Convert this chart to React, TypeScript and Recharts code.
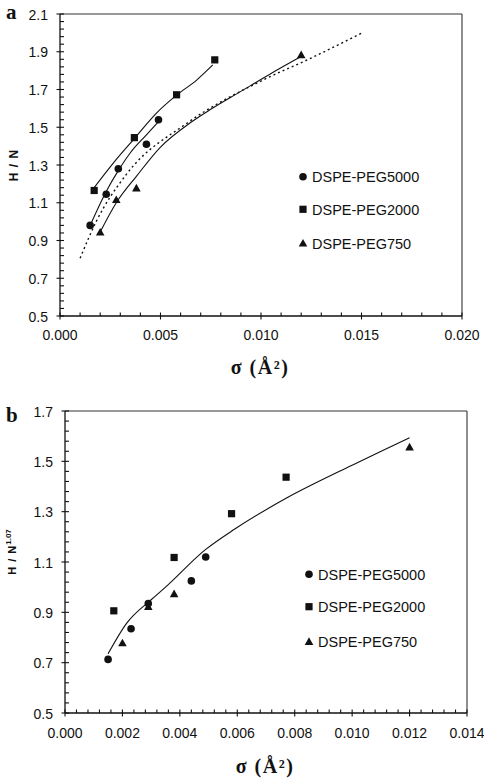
import React from 'react';
import { ComposedChart, Line, Scatter, XAxis, YAxis, ReferenceLine } from 'recharts';

// ---------- Data ----------
const seriesNames = ['DSPE-PEG5000', 'DSPE-PEG2000', 'DSPE-PEG750'];

// Panel a : H / N vs sigma
const peg5000A = [
  { x: 0.0015, y: 0.98 },
  { x: 0.0023, y: 1.145 },
  { x: 0.0029, y: 1.28 },
  { x: 0.0043, y: 1.41 },
  { x: 0.0049, y: 1.54 },
];
const peg2000A = [
  { x: 0.0017, y: 1.165 },
  { x: 0.0037, y: 1.445 },
  { x: 0.0058, y: 1.672 },
  { x: 0.0077, y: 1.857 },
];
const peg750A = [
  { x: 0.002, y: 0.943 },
  { x: 0.0028, y: 1.115 },
  { x: 0.0038, y: 1.177 },
  { x: 0.012, y: 1.883 },
];
const fit5000A = [
  { x: 0.0015, y: 0.98 },
  { x: 0.0023, y: 1.16 },
  { x: 0.0029, y: 1.27 },
  { x: 0.0035, y: 1.365 },
  { x: 0.0043, y: 1.46 },
  { x: 0.0049, y: 1.53 },
];
const fit2000A = [
  { x: 0.0017, y: 1.18 },
  { x: 0.00265, y: 1.31 },
  { x: 0.0037, y: 1.44 },
  { x: 0.0048, y: 1.575 },
  { x: 0.0058, y: 1.67 },
  { x: 0.0068, y: 1.75 },
  { x: 0.0076, y: 1.83 },
];
const fit750A = [
  { x: 0.002, y: 0.945 },
  { x: 0.0028, y: 1.1 },
  { x: 0.0038, y: 1.24 },
  { x: 0.005, y: 1.395 },
  { x: 0.0065, y: 1.525 },
  { x: 0.0075, y: 1.595 },
  { x: 0.009, y: 1.69 },
  { x: 0.0105, y: 1.785 },
  { x: 0.012, y: 1.875 },
];
const fitAllA = [
  { x: 0.001, y: 0.806 },
  { x: 0.0018, y: 1.0 },
  { x: 0.0033, y: 1.25 },
  { x: 0.0063, y: 1.52 },
  { x: 0.01, y: 1.745 },
  { x: 0.0123, y: 1.857 },
  { x: 0.015, y: 1.998 },
];

// Panel b : H / N^1.07 vs sigma
const peg5000B = [
  { x: 0.0015, y: 0.713 },
  { x: 0.0023, y: 0.835 },
  { x: 0.0029, y: 0.935 },
  { x: 0.0044, y: 1.025 },
  { x: 0.0049, y: 1.12 },
];
const peg2000B = [
  { x: 0.0017, y: 0.906 },
  { x: 0.0038, y: 1.118 },
  { x: 0.0058, y: 1.292 },
  { x: 0.0077, y: 1.437 },
];
const peg750B = [
  { x: 0.002, y: 0.778 },
  { x: 0.0029, y: 0.922 },
  { x: 0.0038, y: 0.973 },
  { x: 0.012, y: 1.556 },
];
const fitB = [
  { x: 0.0015, y: 0.735 },
  { x: 0.00215, y: 0.857 },
  { x: 0.003, y: 0.95 },
  { x: 0.0035, y: 1.0 },
  { x: 0.0049, y: 1.15 },
  { x: 0.0059, y: 1.23 },
  { x: 0.0077, y: 1.353 },
  { x: 0.0099, y: 1.479 },
  { x: 0.012, y: 1.594 },
];

// Tick labels
const xMajorA = [0, 0.005, 0.01, 0.015, 0.02];
const yMajorA = [0.5, 0.7, 0.9, 1.1, 1.3, 1.5, 1.7, 1.9, 2.1];
const xMajorB = [0, 0.002, 0.004, 0.006, 0.008, 0.01, 0.012, 0.014];
const yMajorB = [0.5, 0.7, 0.9, 1.1, 1.3, 1.5, 1.7];

// ---------- helpers ----------
const withMinor = (majors: number[]) => {
  const out: number[] = [];
  for (let i = 0; i < majors.length - 1; i++) {
    const a = majors[i];
    const step = (majors[i + 1] - a) / 5;
    for (let k = 0; k < 5; k++) out.push(+(a + k * step).toFixed(6));
  }
  out.push(majors[majors.length - 1]);
  return out;
};
const isMajor = (majors: number[], v: number) => majors.some((m) => Math.abs(m - v) < 1e-9);

const INK = '#111';
const SANS = 'Arial, "Liberation Sans", Helvetica, sans-serif';
const SERIF = '"Times New Roman", "Liberation Serif", Times, serif';

const makeXTick = (majors: number[], dy: number) => (props: any) => {
  const { x, y, payload } = props;
  const v = payload.value;
  const maj = isMajor(majors, v);
  return (
    <g>
      <line x1={x} x2={x} y1={y - 3.5} y2={maj ? y + 3.5 : y} stroke={INK} strokeWidth={1.1} />
      {maj && (
        <text x={x} y={y + dy} textAnchor="middle" fontFamily={SANS} fontSize={14} fill={INK}>
          {v.toFixed(3)}
        </text>
      )}
    </g>
  );
};
const makeYTick = (majors: number[]) => (props: any) => {
  const { x, y, payload } = props;
  const v = payload.value;
  const maj = isMajor(majors, v);
  return (
    <g>
      <line x1={maj ? x - 3.5 : x} x2={x + 4} y1={y} y2={y} stroke={INK} strokeWidth={1.1} />
      {maj && (
        <text x={x - 12} y={y + 5.5} textAnchor="end" fontFamily={SANS} fontSize={14} fill={INK}>
          {v.toFixed(1)}
        </text>
      )}
    </g>
  );
};

const CircleShape = (p: any) => <circle cx={p.cx} cy={p.cy} r={3.8} fill={INK} />;
const SquareShape = (p: any) => (
  <rect x={p.cx - 3.6} y={p.cy - 3.6} width={7.2} height={7.2} fill={INK} />
);
const TriShape = (p: any) => (
  <polygon
    points={`${p.cx},${p.cy - 4.4} ${p.cx - 4.3},${p.cy + 3.2} ${p.cx + 4.3},${p.cy + 3.2}`}
    fill={INK}
  />
);

const LegendBlock = ({ x, ys }: { x: number; ys: number[] }) => (
  <g>
    <circle cx={x} cy={ys[0]} r={3.8} fill={INK} />
    <rect x={x - 3.6} y={ys[1] - 3.6} width={7.2} height={7.2} fill={INK} />
    <polygon
      points={`${x},${ys[2] - 4.4} ${x - 4.3},${ys[2] + 3.2} ${x + 4.3},${ys[2] + 3.2}`}
      fill={INK}
    />
    {seriesNames.map((n, i) => (
      <text key={n} x={x + 9} y={ys[i] + 5.2} fontFamily={SANS} fontSize={14.5} fill={INK}>
        {n}
      </text>
    ))}
  </g>
);

export default function App() {
  const xTicksA = withMinor(xMajorA);
  const yTicksA = withMinor(yMajorA);
  const xTicksB = withMinor(xMajorB);
  const yTicksB = withMinor(yMajorB);
  const lineProps = { dot: false, stroke: INK, strokeWidth: 1.1, isAnimationActive: false, type: 'monotone' as const };

  return (
    <div style={{ position: 'absolute', left: 0, top: 0, width: 484, height: 778, background: '#fff' }}>
      {/* Panel a */}
      <div style={{ position: 'absolute', left: 0, top: 0 }}>
        <ComposedChart width={484} height={390} margin={{ top: 14, right: 22, bottom: 44, left: 0 }}>
          <XAxis
            type="number"
            dataKey="x"
            domain={[0, 0.02]}
            ticks={xTicksA}
            interval={0}
            height={30}
            tickSize={0}
            tickMargin={0}
            tickLine={false}
            tick={makeXTick(xMajorA, 24)}
            axisLine={{ stroke: INK, strokeWidth: 1.3 }}
            allowDataOverflow
          />
          <YAxis
            type="number"
            dataKey="y"
            domain={[0.5, 2.1]}
            ticks={yTicksA}
            interval={0}
            width={60}
            tickSize={0}
            tickMargin={0}
            tickLine={false}
            tick={makeYTick(yMajorA)}
            axisLine={{ stroke: INK, strokeWidth: 1.3 }}
            allowDataOverflow
          />
          <ReferenceLine y={2.1} stroke="#333" strokeWidth={1.2} />
          <ReferenceLine x={0.02} stroke="#444" strokeWidth={1.2} />
          <Line data={fitAllA} dataKey="y" {...lineProps} strokeDasharray="2 3" strokeWidth={1.4} />
          <Line data={fit5000A} dataKey="y" {...lineProps} />
          <Line data={fit2000A} dataKey="y" {...lineProps} />
          <Line data={fit750A} dataKey="y" {...lineProps} />
          <Scatter data={peg5000A} dataKey="y" shape={CircleShape} isAnimationActive={false} />
          <Scatter data={peg2000A} dataKey="y" shape={SquareShape} isAnimationActive={false} />
          <Scatter data={peg750A} dataKey="y" shape={TriShape} isAnimationActive={false} />
        </ComposedChart>
      </div>

      {/* Panel b */}
      <div style={{ position: 'absolute', left: 0, top: 390 }}>
        <ComposedChart width={484} height={388} margin={{ top: 21, right: 17, bottom: 35, left: 0 }}>
          <XAxis
            type="number"
            dataKey="x"
            domain={[0, 0.014]}
            ticks={xTicksB}
            interval={0}
            height={30}
            tickSize={0}
            tickMargin={0}
            tickLine={false}
            tick={makeXTick(xMajorB, 25)}
            axisLine={{ stroke: INK, strokeWidth: 1.3 }}
            allowDataOverflow
          />
          <YAxis
            type="number"
            dataKey="y"
            domain={[0.5, 1.7]}
            ticks={yTicksB}
            interval={0}
            width={65}
            tickSize={0}
            tickMargin={0}
            tickLine={false}
            tick={makeYTick(yMajorB)}
            axisLine={{ stroke: INK, strokeWidth: 1.3 }}
            allowDataOverflow
          />
          <ReferenceLine y={1.7} stroke="#333" strokeWidth={1.2} />
          <ReferenceLine x={0.014} stroke="#444" strokeWidth={1.2} />
          <Line data={fitB} dataKey="y" {...lineProps} />
          <Scatter data={peg5000B} dataKey="y" shape={CircleShape} isAnimationActive={false} />
          <Scatter data={peg2000B} dataKey="y" shape={SquareShape} isAnimationActive={false} />
          <Scatter data={peg750B} dataKey="y" shape={TriShape} isAnimationActive={false} />
        </ComposedChart>
      </div>

      {/* Text overlay */}
      <svg
        width={484}
        height={778}
        style={{ position: 'absolute', left: 0, top: 0, pointerEvents: 'none', overflow: 'visible' }}
      >
        <text x={6} y={19} fontFamily={SERIF} fontWeight="bold" fontSize={21} fill={INK}>a</text>
        <text x={6} y={422} fontFamily={SERIF} fontWeight="bold" fontSize={21} fill={INK}>b</text>

        <text x={260} y={374} textAnchor="middle" fontFamily={SERIF} fontWeight="bold" fontSize={20} letterSpacing={1.5} fill={INK}>
          σ (Å²)
        </text>
        <text x={265} y={773} textAnchor="middle" fontFamily={SERIF} fontWeight="bold" fontSize={20} letterSpacing={1.5} fill={INK}>
          σ (Å²)
        </text>

        <text
          x={18}
          y={165}
          transform="rotate(-90 18 165)"
          textAnchor="middle"
          fontFamily={SANS}
          fontWeight="bold"
          fontSize={12}
          letterSpacing={1}
          fill={INK}
        >
          H / N
        </text>
        <text
          x={16}
          y={552}
          transform="rotate(-90 16 552)"
          textAnchor="middle"
          fontFamily={SANS}
          fontWeight="bold"
          fontSize={11}
          letterSpacing={1}
          fill={INK}
        >
          H / N
          <tspan dy={-5} fontSize={8} letterSpacing={0}>1.07</tspan>
        </text>

        <LegendBlock x={303} ys={[176.7, 209.3, 243.3]} />
        <LegendBlock x={309} ys={[574.3, 606.7, 641.7]} />
      </svg>
    </div>
  );
}
